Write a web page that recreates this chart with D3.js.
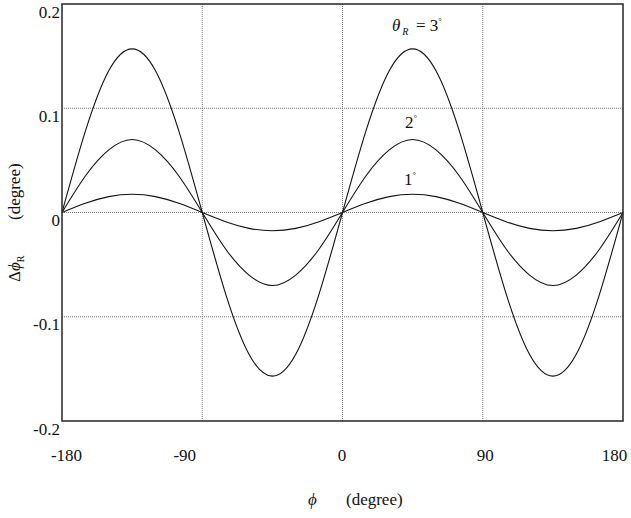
<!DOCTYPE html>
<html>
<head>
<meta charset="utf-8">
<script src="https://cdn.jsdelivr.net/npm/d3@7"></script>
<style>
  body { margin: 0; background: #fff; }
  text { font-family: "Liberation Serif", "Times New Roman", serif; fill: #111; }
</style>
</head>
<body>
<svg id="chart" width="631" height="518"></svg>
<script>
// phi (degree), sampled every 15 degrees
var phi = [-180, -165, -150, -135, -120, -105, -90, -75, -60, -45, -30, -15, 0,
           15, 30, 45, 60, 75, 90, 105, 120, 135, 150, 165, 180];

// delta phi_R (degree)
var theta3 = [0, 0.078, 0.136, 0.157, 0.136, 0.078, 0, -0.078, -0.136, -0.157, -0.136, -0.078, 0,
              0.078, 0.136, 0.157, 0.136, 0.078, 0, -0.078, -0.136, -0.157, -0.136, -0.078, 0];
var theta2 = [0, 0.035, 0.060, 0.070, 0.060, 0.035, 0, -0.035, -0.060, -0.070, -0.060, -0.035, 0,
              0.035, 0.060, 0.070, 0.060, 0.035, 0, -0.035, -0.060, -0.070, -0.060, -0.035, 0];
var theta1 = [0, 0.0088, 0.0152, 0.0175, 0.0152, 0.0088, 0, -0.0088, -0.0152, -0.0175, -0.0152, -0.0088, 0,
              0.0088, 0.0152, 0.0175, 0.0152, 0.0088, 0, -0.0088, -0.0152, -0.0175, -0.0152, -0.0088, 0];

var xTicks = [-180, -90, 0, 90, 180];
var yTicks = [0.2, 0.1, 0, -0.1, -0.2];
var yTickLabels = ["0.2", "0.1", "0", "-0.1", "-0.2"];

var pLeft = 62, pRight = 623, pTop = 4, pBottom = 421;

var svg = d3.select('#chart');

var x = d3.scaleLinear().domain([-180, 180]).range([pLeft, pRight]);
var y = d3.scaleLinear().domain([-0.2, 0.2]).range([pBottom, pTop]);

// dotted grid
svg.append('g')
  .selectAll('line')
  .data(xTicks.slice(1, -1))
  .join('line')
  .attr('x1', d => x(d)).attr('x2', d => x(d))
  .attr('y1', pTop).attr('y2', pBottom)
  .attr('stroke', '#777').attr('stroke-width', 1)
  .attr('stroke-dasharray', '1,1');

svg.append('g')
  .selectAll('line')
  .data(yTicks.slice(1, -1))
  .join('line')
  .attr('x1', pLeft).attr('x2', pRight)
  .attr('y1', d => y(d)).attr('y2', d => y(d))
  .attr('stroke', '#777').attr('stroke-width', 1)
  .attr('stroke-dasharray', '1,1');

// curves
var line = d3.line()
  .x((d, i) => x(phi[i]))
  .y(d => y(d))
  .curve(d3.curveNatural);

[theta3, theta2, theta1].forEach(function(s) {
  svg.append('path')
    .attr('d', line(s))
    .attr('fill', 'none')
    .attr('stroke', '#111')
    .attr('stroke-width', 1.1);
});

// frame
svg.append('rect')
  .attr('x', pLeft).attr('y', pTop)
  .attr('width', pRight - pLeft).attr('height', pBottom - pTop)
  .attr('fill', 'none').attr('stroke', '#333').attr('stroke-width', 1.6);

// y axis labels
var yAxis = svg.append('g')
  .attr('transform', `translate(${pLeft},0)`)
  .call(d3.axisLeft(y).tickValues(yTicks).tickSize(0).tickPadding(2)
        .tickFormat((d, i) => yTickLabels[i]));
yAxis.select('.domain').remove();
yAxis.selectAll('text')
  .attr('font-size', 17)
  .attr('font-family', '"Liberation Serif", serif')
  .attr('dy', 13)
  .attr('fill', '#111');

// x axis labels
var xShift = {'-180': 4, '-90': -18, '0': -1, '90': 2, '180': -9};
var xAxis = svg.append('g')
  .attr('transform', `translate(0,${pBottom})`)
  .call(d3.axisBottom(x).tickValues(xTicks).tickSize(0).tickFormat(d => String(d)));
xAxis.select('.domain').remove();
xAxis.selectAll('text')
  .attr('font-size', 17)
  .attr('font-family', '"Liberation Serif", serif')
  .attr('y', 0)
  .attr('dy', 40)
  .attr('dx', d => xShift[d])
  .attr('fill', '#111');

// axis titles
var xt = svg.append('text').attr('y', 505).attr('font-size', 17);
xt.append('tspan').attr('x', 308).attr('font-style', 'italic').text('ϕ');
xt.append('tspan').attr('x', 346).text('(degree)');

var yt = svg.append('text')
  .attr('transform', 'translate(20,282) rotate(-90)')
  .attr('font-size', 17);
yt.append('tspan').text('Δ');
yt.append('tspan').attr('font-style', 'italic').text('ϕ');
yt.append('tspan').attr('font-size', 10).attr('dy', 4).text('R');
yt.append('tspan').attr('dy', -4).attr('x', 62).text('(degree)');

// curve annotations
var a3 = svg.append('text').attr('y', 31).attr('font-size', 17);
a3.append('tspan').attr('x', 392).attr('font-style', 'italic').text('θ');
a3.append('tspan').attr('font-style', 'italic').attr('font-size', 10).attr('dy', 4).attr('dx', 2).text('R');
a3.append('tspan').attr('dy', -4).attr('x', 416).text('= 3');
a3.append('tspan').attr('font-size', 9).attr('dy', -7).text('°');

var a2 = svg.append('text').attr('y', 128).attr('font-size', 17).attr('x', 405);
a2.append('tspan').text('2');
a2.append('tspan').attr('font-size', 9).attr('dy', -7).text('°');

var a1 = svg.append('text').attr('y', 185).attr('font-size', 17).attr('x', 404);
a1.append('tspan').text('1');
a1.append('tspan').attr('font-size', 9).attr('dy', -7).text('°');
</script>
</body>
</html>
